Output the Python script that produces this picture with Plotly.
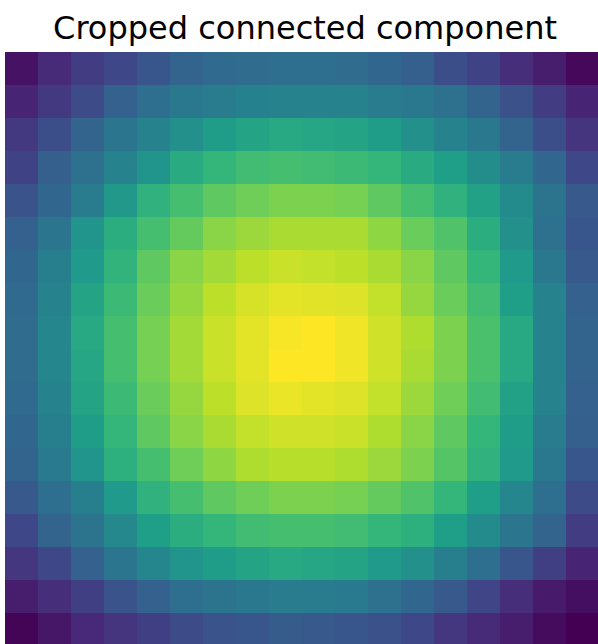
import plotly.graph_objects as go

# pixel intensities of the cropped component, row by row (top to bottom)
row_00 = [0.05, 0.12, 0.18, 0.22, 0.27, 0.32, 0.34, 0.35, 0.36, 0.36, 0.35, 0.33, 0.30, 0.24, 0.20, 0.13, 0.08, 0.02]
row_01 = [0.10, 0.17, 0.23, 0.31, 0.36, 0.40, 0.42, 0.44, 0.45, 0.45, 0.45, 0.42, 0.40, 0.37, 0.32, 0.25, 0.18, 0.10]
row_02 = [0.17, 0.24, 0.32, 0.39, 0.45, 0.50, 0.55, 0.58, 0.60, 0.59, 0.58, 0.55, 0.50, 0.45, 0.40, 0.32, 0.24, 0.15]
row_03 = [0.20, 0.30, 0.37, 0.45, 0.52, 0.61, 0.66, 0.69, 0.70, 0.69, 0.68, 0.66, 0.61, 0.56, 0.49, 0.42, 0.33, 0.22]
row_04 = [0.26, 0.33, 0.42, 0.53, 0.64, 0.70, 0.75, 0.78, 0.80, 0.80, 0.79, 0.75, 0.70, 0.64, 0.57, 0.48, 0.38, 0.28]
row_05 = [0.31, 0.39, 0.52, 0.62, 0.70, 0.76, 0.82, 0.85, 0.87, 0.87, 0.87, 0.83, 0.77, 0.72, 0.62, 0.50, 0.37, 0.27]
row_06 = [0.33, 0.43, 0.54, 0.65, 0.75, 0.82, 0.86, 0.90, 0.92, 0.91, 0.90, 0.87, 0.82, 0.75, 0.66, 0.54, 0.40, 0.28]
row_07 = [0.34, 0.45, 0.58, 0.68, 0.77, 0.84, 0.90, 0.94, 0.96, 0.955, 0.95, 0.91, 0.84, 0.77, 0.69, 0.56, 0.45, 0.31]
row_08 = [0.35, 0.46, 0.60, 0.70, 0.79, 0.86, 0.92, 0.96, 0.99, 1.00, 0.98, 0.93, 0.88, 0.80, 0.71, 0.60, 0.45, 0.32]
row_09 = [0.35, 0.46, 0.59, 0.70, 0.79, 0.86, 0.92, 0.96, 1.00, 1.00, 0.98, 0.93, 0.87, 0.80, 0.71, 0.60, 0.45, 0.32]
row_10 = [0.34, 0.45, 0.58, 0.68, 0.77, 0.84, 0.90, 0.95, 0.97, 0.96, 0.95, 0.91, 0.85, 0.78, 0.69, 0.57, 0.45, 0.31]
row_11 = [0.33, 0.43, 0.55, 0.66, 0.75, 0.82, 0.87, 0.91, 0.93, 0.93, 0.92, 0.88, 0.82, 0.75, 0.66, 0.55, 0.42, 0.30]
row_12 = [0.32, 0.41, 0.52, 0.63, 0.70, 0.78, 0.83, 0.88, 0.89, 0.89, 0.88, 0.85, 0.80, 0.73, 0.64, 0.54, 0.40, 0.27]
row_13 = [0.28, 0.36, 0.43, 0.54, 0.64, 0.70, 0.75, 0.78, 0.80, 0.80, 0.79, 0.76, 0.72, 0.66, 0.56, 0.46, 0.36, 0.23]
row_14 = [0.22, 0.32, 0.38, 0.47, 0.56, 0.62, 0.66, 0.69, 0.70, 0.70, 0.69, 0.66, 0.63, 0.56, 0.48, 0.39, 0.32, 0.18]
row_15 = [0.16, 0.22, 0.31, 0.39, 0.46, 0.52, 0.55, 0.58, 0.60, 0.59, 0.58, 0.54, 0.50, 0.43, 0.36, 0.27, 0.19, 0.10]
row_16 = [0.08, 0.13, 0.19, 0.26, 0.31, 0.36, 0.38, 0.40, 0.42, 0.42, 0.41, 0.37, 0.33, 0.28, 0.21, 0.13, 0.07, 0.04]
row_17 = [0.01, 0.06, 0.11, 0.15, 0.19, 0.23, 0.26, 0.27, 0.29, 0.28, 0.27, 0.25, 0.22, 0.16, 0.12, 0.08, 0.03, 0.00]

z = [row_00, row_01, row_02, row_03, row_04, row_05, row_06, row_07, row_08,
     row_09, row_10, row_11, row_12, row_13, row_14, row_15, row_16, row_17]

fig = go.Figure()
fig.add_trace(go.Heatmap(z=z, colorscale="Viridis", zmin=0, zmax=1,
                         showscale=False, hoverinfo="skip"))

# image is a bit clipped at the right and bottom edge of the figure
fig.update_xaxes(range=[-0.5, 17.47], visible=False, showgrid=False, zeroline=False)
fig.update_yaxes(range=[17.44, -0.5], visible=False, showgrid=False, zeroline=False)

fig.update_layout(
    width=598, height=644,
    margin=dict(l=5, r=0, t=52, b=0),
    paper_bgcolor="white", plot_bgcolor="white",
    title=dict(text="Cropped connected component", x=305/598, xanchor="center",
               y=1 - 28/644, yanchor="middle", yref="container",
               font=dict(family="DejaVu Sans", size=32, color="black")),
)

# drop the default page margin so the figure sits at the top-left corner
fig.write_html("out.html", config={"displayModeBar": False},
               post_script="document.body.style.margin='0px';")
